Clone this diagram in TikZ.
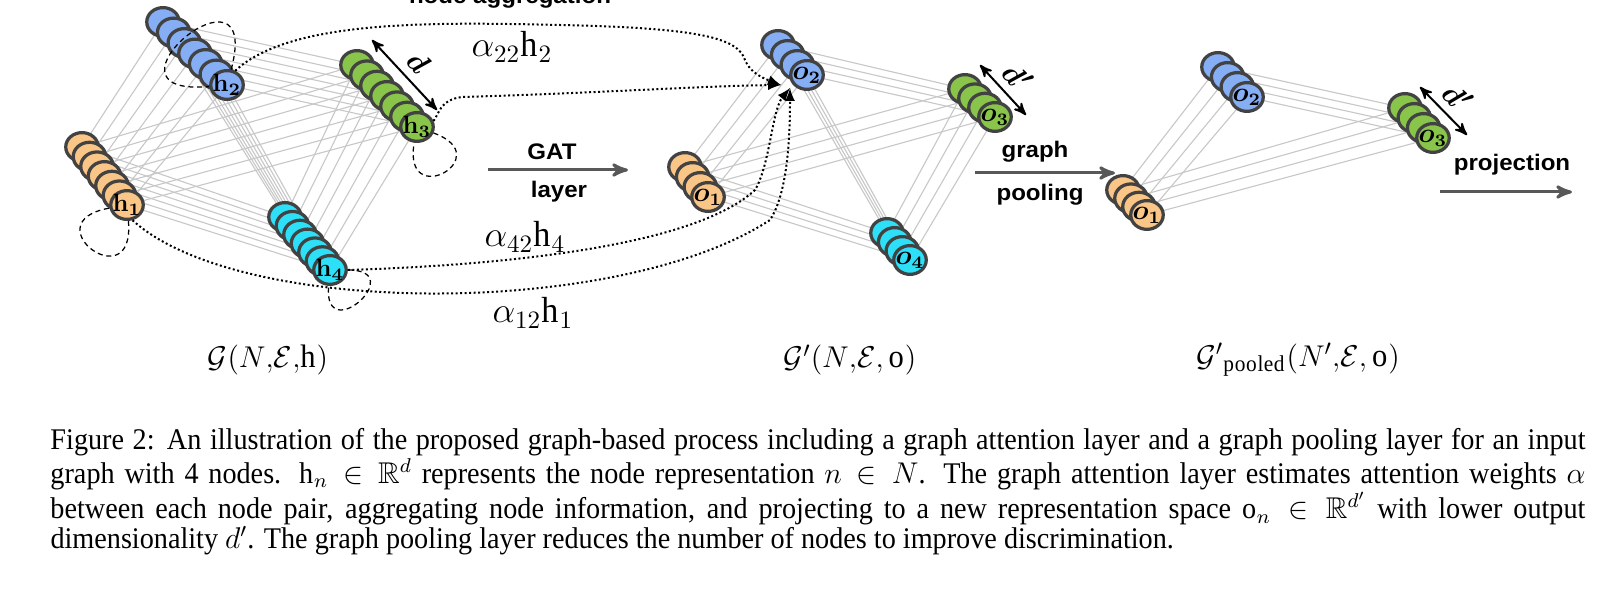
\documentclass[tikz,border=0pt]{standalone}
\usepackage{amsmath,amssymb}
\usepackage{fontspec}
\setmainfont{Liberation Serif}[FakeStretch=0.94]
\setsansfont{Liberation Sans}[FakeStretch=1.07]
\usepackage{tikz}
\usetikzlibrary{arrows,shapes,backgrounds,calc}

\definecolor{hblue}{RGB}{134,174,245}
\definecolor{hgreen}{RGB}{137,196,75}
\definecolor{horange}{RGB}{250,198,135}
\definecolor{hcyan}{RGB}{45,224,247}
\definecolor{rim}{RGB}{66,66,66}
\definecolor{edgegray}{RGB}{200,200,200}
\definecolor{flowgray}{RGB}{88,88,88}

\begin{document}
\begin{tikzpicture}[x=0.4pt,y=0.4pt,>=stealth']
    \tikzstyle{vec}=[ellipse,draw=rim,line width=1.3pt,minimum width=13pt,minimum height=11.5pt,inner sep=0pt]
    \tikzstyle{edge}=[draw=edgegray,line width=0.45pt]
    \tikzstyle{selfloop}=[draw=black,line width=0.5pt,dash pattern=on 2pt off 1.5pt]
    \tikzstyle{agg}=[draw=black,densely dotted,line width=0.8pt,-latex]
    \tikzstyle{flow}=[draw=flowgray,line width=1.2pt,->]
    \tikzstyle{dim}=[draw=black,line width=0.8pt,<->]
    \tikzstyle{dimtag}=[font=\fontsize{13}{14}\selectfont\boldmath,inner sep=1pt,sloped,above=2pt]
    \tikzstyle{tag}=[font=\sffamily\bfseries\fontsize{9}{10}\selectfont,inner sep=0pt]
    \tikzstyle{hlabel}=[font=\fontsize{10}{11}\selectfont\boldmath,inner sep=0pt]
    \tikzstyle{olabel}=[font=\fontsize{10.5}{11}\selectfont\boldmath,inner sep=0pt]
    \tikzstyle{weight}=[font=\fontsize{14.5}{16}\selectfont,inner sep=0pt]
    \tikzstyle{gname}=[font=\fontsize{13}{15}\selectfont,inner sep=0pt]

    \useasboundingbox (0,0) rectangle (1609,-591);

    % input graph
    \foreach \s/\x/\y/\dx/\dy/\col in {h1/82/147/7.5/9.67/horange,h2/163/22/10.67/10.5/hblue,h3/357/65/10/10.33/hgreen,h4/285/217/7.5/8.83/hcyan}
      \foreach \i in {1,...,7}
        \node[vec,fill=\col] (\s-\i) at ({\x+(\i-1)*\dx},{-\y-(\i-1)*\dy}) {};
    \node[hlabel] (h1-txt) at (h1-7) {$\mathbf{h}_1$};
    \node[hlabel] (h2-txt) at (h2-7) {$\mathbf{h}_2$};
    \node[hlabel] (h3-txt) at (h3-7) {$\mathbf{h}_3$};
    \node[hlabel] (h4-txt) at (h4-7) {$\mathbf{h}_4$};

    % after the GAT layer
    \foreach \s/\x/\y/\dx/\dy/\col in {o1/685/167/7.67/10/horange,o2/778/45/9.67/10/hblue,o3/965/89/10/9.33/hgreen,o4/887/233/7.67/9/hcyan}
      \foreach \i in {1,...,4}
        \node[vec,fill=\col] (\s-\i) at ({\x+(\i-1)*\dx},{-\y-(\i-1)*\dy}) {};
    \node[olabel] (o1-txt) at (o1-4) {$o_1$};
    \node[olabel] (o2-txt) at (o2-4) {$o_2$};
    \node[olabel] (o3-txt) at (o3-4) {$o_3$};
    \node[olabel] (o4-txt) at (o4-4) {$o_4$};

    % after pooling
    \foreach \s/\x/\y/\dx/\dy/\col in {po1/1123/190/8/8.33/horange,po2/1218/67/9.67/10/hblue,po3/1405/108/9.33/10/hgreen}
      \foreach \i in {1,...,4}
        \node[vec,fill=\col] (\s-\i) at ({\x+(\i-1)*\dx},{-\y-(\i-1)*\dy}) {};
    \node[olabel] (po1-txt) at (po1-4) {$o_1$};
    \node[olabel] (po2-txt) at (po2-4) {$o_2$};
    \node[olabel] (po3-txt) at (po3-4) {$o_3$};

    \begin{scope}[on background layer]
      \foreach \a/\b in {h1/h2,h1/h3,h1/h4,h2/h3,h2/h4,h3/h4}
        \foreach \i in {1,...,7}
          \draw[edge] (\a-\i.center) -- (\b-\i.center);
      \foreach \a/\b in {o1/o2,o1/o3,o1/o4,o2/o3,o2/o4,o3/o4,po1/po2,po1/po3,po2/po3}
        \foreach \i in {1,...,4}
          \draw[edge] (\a-\i.center) -- (\b-\i.center);
    \end{scope}

    \draw[selfloop] (h1-7) to[out=-85,in=-170,min distance=32pt] (h1-7);
    \draw[selfloop] (h2-7) to[out=75,in=185,min distance=50pt] (h2-7);
    \draw[selfloop] (h3-7) to[out=-20,in=-100,min distance=28pt] (h3-7);
    \draw[selfloop] (h4-7) to[out=0,in=-95,min distance=25pt] (h4-7);

    \coordinate (tip) at (781,-85);
    \coordinate (tipb) at (790,-88);
    \draw[agg] (h2-7.60) .. controls (290,-20) and (430,-22) .. (560,-25) .. controls (700,-28) and (738,-38) .. (745,-60) .. controls (750,-74) and (768,-80) .. (tip);
    \draw[agg] (h3-7.20) .. controls (440,-112) and (440,-100) .. (462,-97) .. controls (600,-93) and (700,-86) .. (tip);
    \draw[agg] (h4-7.east) .. controls (480,-266) and (690,-250) .. (755,-190) .. controls (770,-165) and (772,-110) .. (tipb);
    \draw[agg] (h1-7.-70) .. controls (240,-318) and (620,-318) .. (770,-220) .. controls (790,-190) and (790,-120) .. (tipb);

    \draw[dim] ([shift={(15,25)}]h3-1.center) -- node[dimtag] (dlab) {$d$} ([shift={(20,17)}]h3-7.center);
    \draw[dim] ([shift={(15,24)}]o3-1.center) -- node[dimtag] (dlab2) {$d'$} ([shift={(31,2)}]o3-4.center);
    \draw[dim] ([shift={(15,21)}]po3-1.center) -- node[dimtag] (dlab3) {$d'$} ([shift={(34,3)}]po3-4.center);

    \node[tag,anchor=base] (aggtitle) at (510,-4) {node aggregation};
    \node[weight] (w22) at (512,-47) {$\alpha_{22}\mathrm{h}_2$};
    \node[weight] (w42) at (525,-237) {$\alpha_{42}\mathrm{h}_4$};
    \node[weight] (w12) at (533,-313) {$\alpha_{12}\mathrm{h}_1$};

    \coordinate (gat-in) at (488,-170);
    \coordinate (gat-out) at (628,-170);
    \draw[flow] (gat-in) -- (gat-out);
    \node[tag] (gat) at (552,-152) {GAT};
    \node[tag] (gat2) at (559,-192) {layer};

    \coordinate (pool-in) at (975,-173);
    \coordinate (pool-out) at (1115,-173);
    \draw[flow] (pool-in) -- (pool-out);
    \node[tag] (pool) at (1035,-152) {graph};
    \node[tag] (pool2) at (1040,-195) {pooling};

    \coordinate (proj-in) at (1440,-192);
    \coordinate (proj-out) at (1572,-192);
    \draw[flow] (proj-in) -- (proj-out);
    \node[tag] (proj) at (1512,-165) {projection};

    \node[gname] (gin) at (268,-360) {$\mathcal{G}(N{,}\mathcal{E}{,}\mathrm{h})$};
    \node[gname] (ggat) at (850,-360) {$\mathcal{G}'(N{,}\mathcal{E}{,}\,\mathrm{o})$};
    \node[gname] (gpool) at (1298,-360) {$\mathcal{G}'{}_{\mathrm{pooled}}(N'{,}\mathcal{E}{,}\,\mathrm{o})$};

    \node[anchor=north west,inner sep=0pt,text width=614pt,align=justify,font=\fontsize{12}{12.1}\selectfont] (cap) at (50,-428)
      {Figure 2: An illustration of the proposed graph-based process including a graph attention layer and a graph pooling layer for an input\linebreak
       graph with 4 nodes. $\mathrm{h}_n \in \mathbb{R}^d$ represents the node representation $n \in N$. The graph attention layer estimates attention weights $\alpha$\linebreak
       between each node pair, aggregating node information, and projecting to a new representation space $\mathrm{o}_n \in \mathbb{R}^{d'}$ with lower output\linebreak
       dimensionality $d'$. The graph pooling layer reduces the number of nodes to improve discrimination.};
\end{tikzpicture}
\end{document}
